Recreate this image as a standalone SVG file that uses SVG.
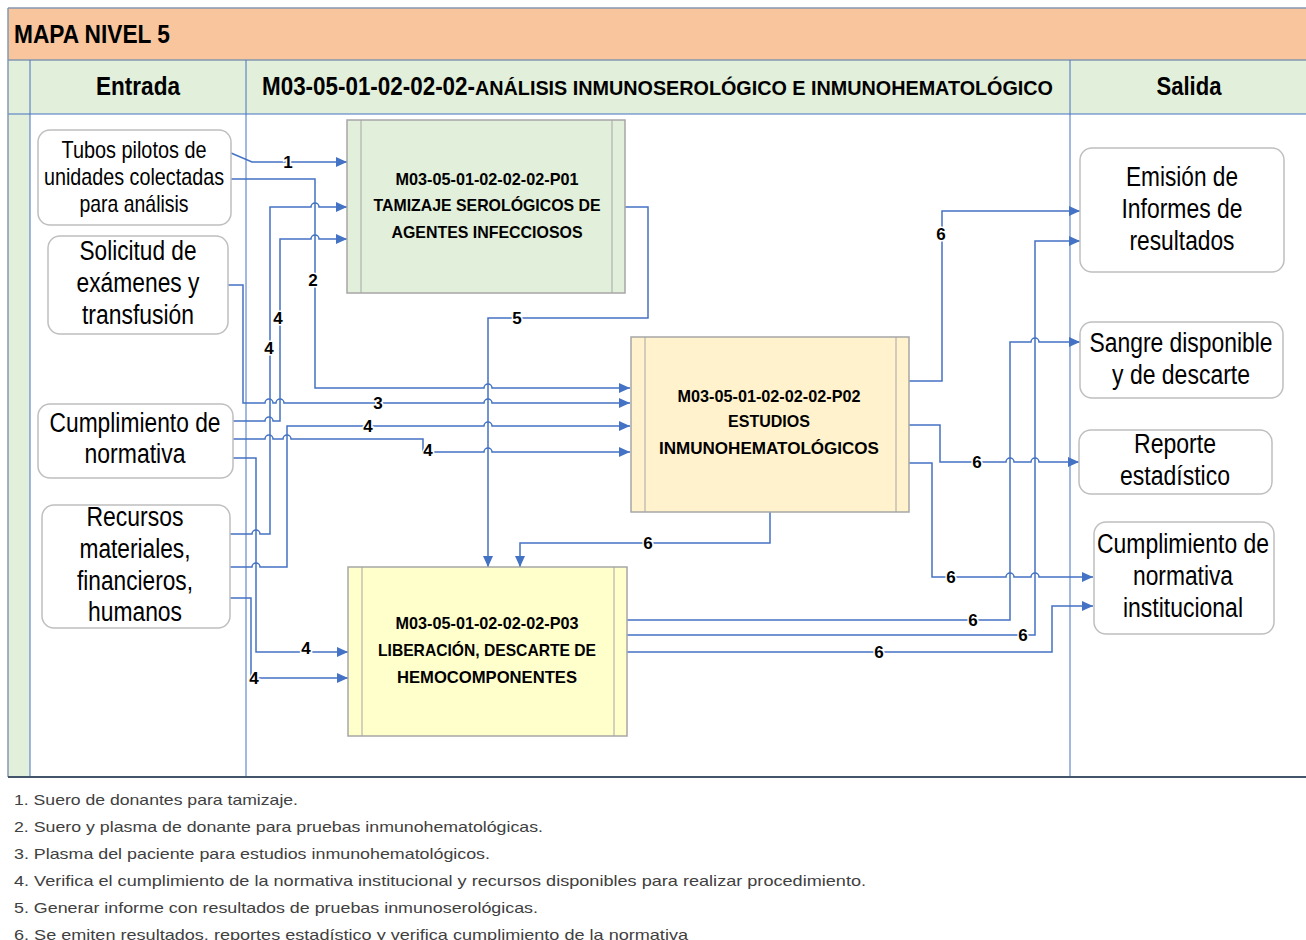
<svg xmlns="http://www.w3.org/2000/svg" width="1306" height="940" viewBox="0 0 1306 940">
<defs>
<marker id="ah" markerUnits="userSpaceOnUse" markerWidth="11" markerHeight="10" refX="11" refY="5" orient="auto"><path d="M0,0 L11,5 L0,10 z" fill="#4472C4"/></marker>
<style>
.cn{fill:none;stroke:#4472C4;stroke-width:1.5}
.ar{marker-end:url(#ah)}
.nd{fill:#fff;stroke:#BFBFBF;stroke-width:1.5}
.nt{font-family:"Liberation Sans Narrow","Arial Narrow","Liberation Sans",sans-serif;font-size:27px;fill:#000;text-anchor:middle}
.ns{font-size:24px}
.pb{stroke:#A6A6A6;stroke-width:1.5}
.pl{stroke:#A6A6A6;stroke-width:1}
.pt{font-family:"Liberation Sans Narrow","Arial Narrow","Liberation Sans",sans-serif;font-weight:bold;font-size:17px;fill:#000;text-anchor:middle}
.lb{font-family:"Liberation Sans Narrow","Arial Narrow","Liberation Sans",sans-serif;font-weight:bold;font-size:17px;fill:#000;text-anchor:middle;stroke:#fff;stroke-width:3;paint-order:stroke}
.hd{font-family:"Liberation Sans Narrow","Arial Narrow","Liberation Sans",sans-serif;font-weight:bold;fill:#000}
.lg{font-family:"Liberation Sans",sans-serif;font-size:15px;fill:#404040}
.gl{stroke:#4472C4;stroke-width:1}
</style>
</defs>
<g id="frame">
<rect x="8" y="8" width="1300" height="52" fill="#F8C59D"/>
<rect x="8" y="60" width="1300" height="54" fill="#E2EFDA"/>
<rect x="8" y="114" width="22" height="662" fill="#E2EFDA"/>
<line x1="8" y1="8" x2="1306" y2="8" stroke="#8497B0" stroke-width="1.5"/>
<line x1="8" y1="60" x2="1306" y2="60" stroke="#8497B0" stroke-width="1.5"/>
<line x1="8" y1="114" x2="1306" y2="114" class="gl"/>
<line x1="8" y1="8" x2="8" y2="777" stroke="#8497B0" stroke-width="1.5"/>
<line x1="30" y1="60" x2="30" y2="776" class="gl"/>
<line x1="246" y1="60" x2="246" y2="776" class="gl"/>
<line x1="1070" y1="60" x2="1070" y2="776" class="gl"/>
<line x1="8" y1="777" x2="1306" y2="777" stroke="#44546A" stroke-width="2"/>
<text x="14" y="43" class="hd" font-size="25" textLength="156" lengthAdjust="spacingAndGlyphs">MAPA NIVEL 5</text>
<text x="138" y="95" class="hd" font-size="26" text-anchor="middle" textLength="84" lengthAdjust="spacingAndGlyphs">Entrada</text>
<text x="262" y="95" class="hd" font-size="25" textLength="213" lengthAdjust="spacingAndGlyphs">M03-05-01-02-02-02-</text>
<text x="475" y="95" class="hd" font-size="21" textLength="578" lengthAdjust="spacingAndGlyphs">ANÁLISIS INMUNOSEROLÓGICO E INMUNOHEMATOLÓGICO</text>
<text x="1189" y="95" class="hd" font-size="26" text-anchor="middle" textLength="65" lengthAdjust="spacingAndGlyphs">Salida</text>
</g>
<g id="connectors">
<path class="cn ar" d="M231,153 L252,162 H347"/>
<path class="cn ar" d="M231,179 H315 V388 H484 a4,4 0 0 1 8,0 H630"/>
<path class="cn ar" d="M228,285 H243 V403 H265 a4,4 0 0 1 8,0 H276 a4,4 0 0 1 8,0 H484 a4,4 0 0 1 8,0 H630"/>
<path class="cn ar" d="M228,534 H252 a4,4 0 0 1 8,0 H270 V207 H311 a4,4 0 0 1 8,0 H347"/>
<path class="cn ar" d="M233,421 H265 a4,4 0 0 1 8,0 H280 V239 H311 a4,4 0 0 1 8,0 H347"/>
<path class="cn ar" d="M228,567 H252 a4,4 0 0 1 8,0 H287 V426 H484 a4,4 0 0 1 8,0 H630"/>
<path class="cn ar" d="M233,439 H265 a4,4 0 0 1 8,0 H283 a4,4 0 0 1 8,0 H423 V452 H484 a4,4 0 0 1 8,0 H630"/>
<path class="cn ar" d="M233,458 H256 V652 H348"/>
<path class="cn ar" d="M228,598 H251 V678 H348"/>
<path class="cn ar" d="M625,207 H648 V318 H488 V567"/>
<path class="cn ar" d="M770,512 V543 H520 V567"/>
<path class="cn ar" d="M909,381 H942 V211 H1080"/>
<path class="cn ar" d="M909,425 H940 V462 H1006 a4,4 0 0 1 8,0 H1031 a4,4 0 0 1 8,0 H1079"/>
<path class="cn ar" d="M909,463 H932 V577 H1006 a4,4 0 0 1 8,0 H1031 a4,4 0 0 1 8,0 H1093"/>
<path class="cn ar" d="M627,620 H1010 V342 H1031 a4,4 0 0 1 8,0 H1080"/>
<path class="cn ar" d="M627,635 H1035 V241 H1080"/>
<path class="cn ar" d="M627,652 H1052 V606 H1093"/>
<text class="lb" x="288" y="168">1</text>
<text class="lb" x="313" y="286">2</text>
<text class="lb" x="378" y="409">3</text>
<text class="lb" x="278" y="324">4</text>
<text class="lb" x="269" y="354">4</text>
<text class="lb" x="368" y="432">4</text>
<text class="lb" x="428" y="456">4</text>
<text class="lb" x="306" y="654">4</text>
<text class="lb" x="254" y="684">4</text>
<text class="lb" x="517" y="324">5</text>
<text class="lb" x="648" y="549">6</text>
<text class="lb" x="941" y="240">6</text>
<text class="lb" x="977" y="468">6</text>
<text class="lb" x="951" y="583">6</text>
<text class="lb" x="973" y="626">6</text>
<text class="lb" x="1023" y="641">6</text>
<text class="lb" x="879" y="658">6</text>
</g>
<g id="in-tubos">
<rect class="nd" x="38" y="130" width="193" height="95" rx="12"/>
<text class="nt ns" x="134" y="158" textLength="145" lengthAdjust="spacingAndGlyphs">Tubos pilotos de</text>
<text class="nt ns" x="134" y="185" textLength="180" lengthAdjust="spacingAndGlyphs">unidades colectadas</text>
<text class="nt ns" x="134" y="212" textLength="109" lengthAdjust="spacingAndGlyphs">para análisis</text>
</g>
<g id="in-solicitud">
<rect class="nd" x="48" y="236" width="180" height="98" rx="12"/>
<text class="nt" x="138" y="260" textLength="117" lengthAdjust="spacingAndGlyphs">Solicitud de</text>
<text class="nt" x="138" y="292" textLength="123" lengthAdjust="spacingAndGlyphs">exámenes y</text>
<text class="nt" x="138" y="324" textLength="112" lengthAdjust="spacingAndGlyphs">transfusión</text>
</g>
<g id="in-cumplimiento">
<rect class="nd" x="38" y="404" width="195" height="74" rx="12"/>
<text class="nt" x="135" y="432" textLength="171" lengthAdjust="spacingAndGlyphs">Cumplimiento de</text>
<text class="nt" x="135" y="463" textLength="101" lengthAdjust="spacingAndGlyphs">normativa</text>
</g>
<g id="in-recursos">
<rect class="nd" x="42" y="505" width="188" height="123" rx="12"/>
<text class="nt" x="135" y="526" textLength="97" lengthAdjust="spacingAndGlyphs">Recursos</text>
<text class="nt" x="135" y="558" textLength="111" lengthAdjust="spacingAndGlyphs">materiales,</text>
<text class="nt" x="135" y="590" textLength="116" lengthAdjust="spacingAndGlyphs">financieros,</text>
<text class="nt" x="135" y="621" textLength="94" lengthAdjust="spacingAndGlyphs">humanos</text>
</g>
<g id="p01">
<rect class="pb" x="347" y="120" width="278" height="173" fill="#E2EFDA"/>
<line class="pl" x1="361" y1="120" x2="361" y2="293"/>
<line class="pl" x1="612" y1="120" x2="612" y2="293"/>
<text class="pt" x="487" y="185" textLength="183" lengthAdjust="spacingAndGlyphs">M03-05-01-02-02-02-P01</text>
<text class="pt" x="487" y="211" textLength="227" lengthAdjust="spacingAndGlyphs">TAMIZAJE SEROLÓGICOS DE</text>
<text class="pt" x="487" y="238" textLength="191" lengthAdjust="spacingAndGlyphs">AGENTES  INFECCIOSOS</text>
</g>
<g id="p02">
<rect class="pb" x="631" y="337" width="278" height="175" fill="#FFF2CC"/>
<line class="pl" x1="645" y1="337" x2="645" y2="512"/>
<line class="pl" x1="896" y1="337" x2="896" y2="512"/>
<text class="pt" x="769" y="402" textLength="183" lengthAdjust="spacingAndGlyphs">M03-05-01-02-02-02-P02</text>
<text class="pt" x="769" y="427" textLength="82" lengthAdjust="spacingAndGlyphs">ESTUDIOS</text>
<text class="pt" x="769" y="454" textLength="220" lengthAdjust="spacingAndGlyphs">INMUNOHEMATOLÓGICOS</text>
</g>
<g id="p03">
<rect class="pb" x="348" y="567" width="279" height="169" fill="#FFFFCC"/>
<line class="pl" x1="362" y1="567" x2="362" y2="736"/>
<line class="pl" x1="614" y1="567" x2="614" y2="736"/>
<text class="pt" x="487" y="629" textLength="183" lengthAdjust="spacingAndGlyphs">M03-05-01-02-02-02-P03</text>
<text class="pt" x="487" y="656" textLength="218" lengthAdjust="spacingAndGlyphs">LIBERACIÓN, DESCARTE DE</text>
<text class="pt" x="487" y="683" textLength="180" lengthAdjust="spacingAndGlyphs">HEMOCOMPONENTES</text>
</g>
<g id="out-emision">
<rect class="nd" x="1080" y="148" width="204" height="124" rx="12"/>
<text class="nt" x="1182" y="186" textLength="112" lengthAdjust="spacingAndGlyphs">Emisión de</text>
<text class="nt" x="1182" y="218" textLength="121" lengthAdjust="spacingAndGlyphs">Informes de</text>
<text class="nt" x="1182" y="250" textLength="105" lengthAdjust="spacingAndGlyphs">resultados</text>
</g>
<g id="out-sangre">
<rect class="nd" x="1080" y="322" width="203" height="76" rx="12"/>
<text class="nt" x="1181" y="352" textLength="183" lengthAdjust="spacingAndGlyphs">Sangre disponible</text>
<text class="nt" x="1181" y="384" textLength="138" lengthAdjust="spacingAndGlyphs">y de descarte</text>
</g>
<g id="out-reporte">
<rect class="nd" x="1079" y="430" width="193" height="64" rx="12"/>
<text class="nt" x="1175" y="453" textLength="82" lengthAdjust="spacingAndGlyphs">Reporte</text>
<text class="nt" x="1175" y="485" textLength="110" lengthAdjust="spacingAndGlyphs">estadístico</text>
</g>
<g id="out-cumplimiento">
<rect class="nd" x="1094" y="522" width="180" height="112" rx="12"/>
<text class="nt" x="1183" y="553" textLength="172" lengthAdjust="spacingAndGlyphs">Cumplimiento de</text>
<text class="nt" x="1183" y="585" textLength="100" lengthAdjust="spacingAndGlyphs">normativa</text>
<text class="nt" x="1183" y="617" textLength="120" lengthAdjust="spacingAndGlyphs">institucional</text>
</g>
<g id="legend">
<text class="lg" x="14" y="805" textLength="284" lengthAdjust="spacingAndGlyphs">1. Suero de donantes para tamizaje.</text>
<text class="lg" x="14" y="832" textLength="529" lengthAdjust="spacingAndGlyphs">2. Suero y plasma de donante para pruebas inmunohematológicas.</text>
<text class="lg" x="14" y="859" textLength="476" lengthAdjust="spacingAndGlyphs">3. Plasma del paciente para estudios inmunohematológicos.</text>
<text class="lg" x="14" y="886" textLength="852" lengthAdjust="spacingAndGlyphs">4. Verifica el cumplimiento de la normativa institucional y recursos disponibles para realizar procedimiento.</text>
<text class="lg" x="14" y="913" textLength="524" lengthAdjust="spacingAndGlyphs">5. Generar informe con resultados de pruebas inmunoserológicas.</text>
<text class="lg" x="14" y="940" textLength="674" lengthAdjust="spacingAndGlyphs">6. Se emiten resultados, reportes estadístico y verifica cumplimiento de la normativa</text>
</g>
</svg>
